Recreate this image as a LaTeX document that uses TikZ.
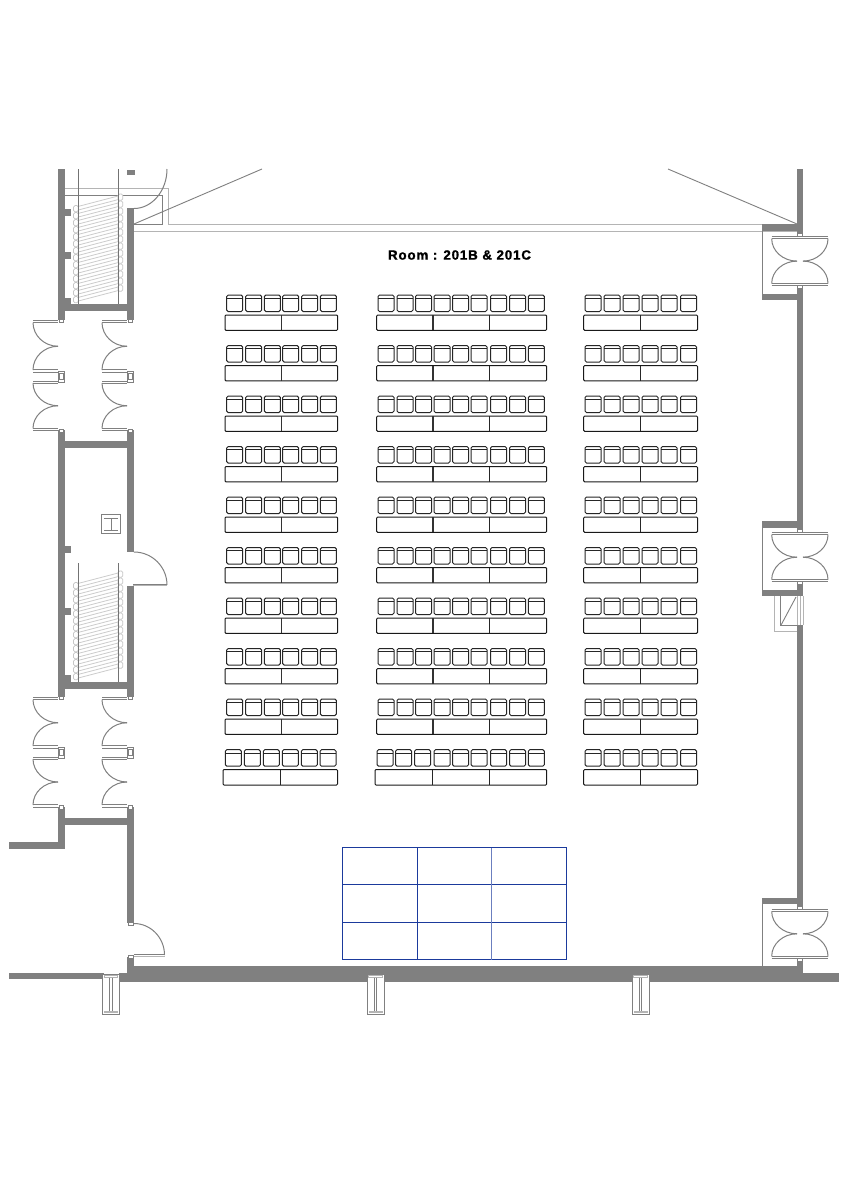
\documentclass[tikz,border=0pt]{standalone}
\usepackage{fontspec}
\setmainfont{Liberation Sans}
\newfontfamily\titlefont[LetterSpace=6,BoldFont={Liberation Sans Bold},BoldFeatures={FakeBold=1.3}]{Liberation Sans}
\definecolor{wallgrey}{HTML}{808080}
\definecolor{lightgrey}{HTML}{B4B4B4}
\definecolor{gridblue}{HTML}{1B3A9C}
\tikzset{
  wallfill/.style={fill=wallgrey,draw=none},
  thinline/.style={draw=wallgrey,line width=0.9pt},
  lightline/.style={draw=lightgrey,line width=1pt},
  swing/.style={draw=wallgrey,line width=1pt},
  jamb/.style={draw=wallgrey,fill=white,line width=0.8pt},
  seatbox/.style={draw=black!85,line width=1pt,fill=white,rounded corners=1.5pt},
  deskbox/.style={draw=black!90,line width=1pt,fill=white,rounded corners=1pt},
  deskdiv/.style={draw=black!80,line width=1.6pt},
  deskdivthin/.style={draw=black!85,line width=0.9pt},
  treadline/.style={draw=black!20,line width=0.8pt},
  treadend/.style={draw=black!22,line width=0.7pt,fill=white,rounded corners=1.5pt},
  stairrail/.style={draw=black!55,line width=0.8pt},
  bluegrid/.style={draw=gridblue,line width=1.2pt},
  titletext/.style={font=\titlefont\bfseries\fontsize{13.4}{15}\selectfont,text=black,inner sep=0pt}
}
\newcommand{\wallr}[4]{\fill[wallfill] (#1,#2) rectangle (#3,#4);}
% quarter arc: vertical tangent at A, horizontal at B
\newcommand{\arcVH}[4]{({#1},{#2}) .. controls ({#1},{#2+0.55*(#4-(#2))}) and ({#3+0.55*(#1-(#3))},{#4}) .. ({#3},{#4})}
% quarter arc: horizontal tangent at A, vertical at B
\newcommand{\arcHV}[4]{({#1},{#2}) .. controls ({#1+0.55*(#3-(#1))},{#2}) and ({#3},{#4+0.55*(#2-(#4))}) .. ({#3},{#4})}
% pair of west-opening double doors: wall face x, top y, bottom y
\newcommand{\westpair}[3]{%
  \draw[swing] (#1-25,#2) -- (#1,#2) (#1-25,#2+2.2) -- (#1,#2+2.2);
  \draw[swing] (#1-25,#3) -- (#1,#3) (#1-25,#3-2.2) -- (#1,#3-2.2);
  \draw[swing] \arcVH{#1-25}{#2+2}{#1}{(#2+#3)/2};
  \draw[swing] \arcVH{#1-25}{#3-2}{#1}{(#2+#3)/2};
}
% pair of doors swinging both sides of the east wall
\newcommand{\eastpair}[2]{%
  \draw[swing] (771.7,#1) -- (828,#1) (771.7,#1+2.2) -- (828,#1+2.2);
  \draw[swing] (771.7,#2) -- (828,#2) (771.7,#2-2.2) -- (828,#2-2.2);
  \draw[swing] \arcVH{771.7}{#1+2}{797}{(#1+#2)/2};
  \draw[swing] \arcVH{828}{#1+2}{803}{(#1+#2)/2};
  \draw[swing] \arcVH{771.7}{#2-2}{797}{(#1+#2)/2};
  \draw[swing] \arcVH{828}{#2-2}{803}{(#1+#2)/2};
  \draw[jamb] (797.5,#1-3) rectangle (802.5,#1);
  \draw[jamb] (797.5,#2) rectangle (802.5,#2+3);
}
\newcommand{\midjamb}[2]{%
  \draw[jamb] (#1,#2) rectangle (#1+6.5,#2+11);
  \draw[jamb] (#1+1.5,#2+2.5) rectangle (#1+5,#2+8.5);
}
\newcommand{\stairflight}[1]{%
  \foreach \i in {0,...,13} {
    \pgfmathsetmacro{\yy}{#1+7*\i}
    \draw[treadline] (76,\yy) -- (120,\yy-11.5) (76,\yy+3.6) -- (120,\yy-7.9);
    \draw[treadend] (73.5,\yy-1.5) rectangle (78.3,\yy+4.8);
    \draw[treadend] (118,\yy-13) rectangle (122.8,\yy-6.7);
  }
}
\newcommand{\wcolumn}[1]{%
  \draw[jamb] (#1,974) rectangle (#1+16.6,1014);
  \draw[lightline] (#1+1.5,975.5) rectangle (#1+15.1,977.5);
  \fill[lightgrey] (#1+1.5,1010.7) rectangle (#1+15.1,1013);
  \draw[thinline] (#1+7.2,977.5) -- (#1+7.2,1010.7) (#1+9.4,977.5) -- (#1+9.4,1010.7);
}
\newcommand{\chairat}[2]{%
  \draw[seatbox] (#1,#2) rectangle (#1+16,#2+16.5);
  \draw[draw=black!85,line width=0.8pt] (#1+0.3,#2+3.3) -- (#1+15.7,#2+3.3);
}
\begin{document}
\begin{tikzpicture}[x=1pt,y=-1pt]
\useasboundingbox (0,0) rectangle (848,1200);
\fill[white] (0,0) rectangle (848,1200);

% thin ceiling / soffit lines
\draw[lightline] (65,188) -- (168,188);
\draw[thinline] (65,195) -- (162,195) -- (162,224) -- (134,224);
\draw[lightline] (168,188) -- (168,224) -- (795,224);
\draw[lightline] (134,231) -- (797,231);
\draw[thinline] (134,224) -- (262,169);
\draw[thinline] (668,169) -- (797,224);

% stair flights
\stairflight{207}
\stairflight{584}
\draw[stairrail] (78,169) -- (78,304) (118,169) -- (118,304);
\draw[stairrail] (78,563) -- (78,682) (118,563) -- (118,682);

% west corridor walls
\wallr{58}{169}{65}{320}
\wallr{127}{208}{134}{320}
\wallr{65}{304}{127}{311}
\wallr{65}{209}{71}{216}
\wallr{65}{252}{71}{259}
\wallr{65}{298}{71}{304}
\wallr{127}{170}{135}{175}
\wallr{58}{430}{65}{697}
\wallr{127}{430}{134}{552}
\wallr{127}{586}{134}{697}
\wallr{65}{441}{127}{448}
\wallr{65}{682}{127}{689}
\wallr{65}{546}{71}{553}
\wallr{65}{608}{71}{615}
\wallr{65}{675}{71}{682}
\wallr{58}{807}{65}{849}
\wallr{127}{807}{134}{923}
\wallr{65}{818}{127}{825}
\wallr{9}{842}{65}{849}
\wallr{127}{957}{134}{973}
\wallr{9}{973}{104}{979}
\wallr{119}{973}{134}{982}
\wallr{134}{966}{803}{982}
\wallr{803}{973}{839}{982}

% east wall
\wallr{797}{169}{803}{237}
\wallr{762}{224}{797}{231}
\wallr{797}{286}{803}{533}
\wallr{762}{293.5}{797}{300}
\wallr{762}{521}{797}{528}
\wallr{797}{582}{803}{596}
\wallr{762}{589.5}{797}{596}
\wallr{797}{625}{803}{910}
\wallr{762}{897.5}{797}{904}
\wallr{797}{958}{803}{970}
\draw[thinline] (762.7,231) -- (762.7,293.5);
\draw[thinline] (762.7,528) -- (762.7,589.5);
\draw[thinline] (762.7,904) -- (762.7,966);

% east window
\draw[lightline] (797,596) -- (797,625) (800,596) -- (800,625) (803,596) -- (803,625);
\draw[lightline] (774.3,596) -- (774.3,631.7) -- (797,631.7);
\draw[thinline] (780.7,596) -- (780.7,625.7) -- (797,625.7);
\draw[thinline] (780.7,625.7) -- (796,597);

% east doors
\eastpair{236.7}{285.5}
\eastpair{532.7}{581.7}
\eastpair{909.3}{958.3}

% west double doors
\westpair{58}{320.5}{372}
\westpair{58}{381}{430.5}
\westpair{127}{320.5}{372}
\westpair{127}{381}{430.5}
\westpair{58}{697.5}{748}
\westpair{58}{757}{807}
\westpair{127}{697.5}{748}
\westpair{127}{757}{807}
\foreach \jx in {58,127} {
  \midjamb{\jx}{371}
  \midjamb{\jx}{747}
  \draw[jamb] (\jx+1,319) rectangle (\jx+5.5,322.5);
  \draw[jamb] (\jx+1,429) rectangle (\jx+5.5,432.5);
  \draw[jamb] (\jx+1,696) rectangle (\jx+5.5,699.5);
  \draw[jamb] (\jx+1,805.5) rectangle (\jx+5.5,809);
}

% single doors
\draw[swing] \arcHV{134}{208.5}{167}{169};
\draw[swing] \arcHV{134}{552}{167}{585};
\draw[lightline] (133,585.5) -- (167,585.5);
\draw[swing] (133,584.5) -- (167,584.5);
\draw[swing] \arcHV{134}{923.5}{164.5}{955};
\draw[swing] (134,954.5) -- (164.5,954.5);
\draw[lightline] (134,956.3) -- (164.5,956.3);
\draw[jamb] (128.5,922) rectangle (133,925.5);
\draw[jamb] (128.5,955) rectangle (133,958.5);

% lift symbol
\draw[thinline] (101.7,514) rectangle (120.7,533);
\draw[draw=wallgrey,line width=1pt] (104,518) -- (118,518) (104,530) -- (118,530) (111,518) -- (111,530);

% structural columns
\wcolumn{102.7}
\wcolumn{367.4}
\wcolumn{632.4}

% seating
\foreach \r in {0,...,8} {
  \pgfmathsetmacro{\cy}{295+50.5*\r}
  \pgfmathsetmacro{\ty}{315+50.5*\r}
  \foreach \cx in {226.7,245.7,264.3,282.7,301.7,320.3} {\chairat{\cx}{\cy}}
  \draw[deskbox] (225,\ty) rectangle (337.7,\ty+15.3);
  \draw[deskdiv] (281.5,\ty) -- (281.5,\ty+15.3);
  \foreach \cx in {378,397,415.5,434,452.5,471,490.5,509.5,528.3} {\chairat{\cx}{\cy}}
  \draw[deskbox] (376.7,\ty) rectangle (546.7,\ty+15.3);
  \draw[deskdiv] (433,\ty) -- (433,\ty+15.3);
  \draw[deskdivthin] (489.5,\ty) -- (489.5,\ty+15.3);
  \foreach \cx in {585,604,623,642,661,680.5} {\chairat{\cx}{\cy}}
  \draw[deskbox] (583.7,\ty) rectangle (697.5,\ty+15.3);
  \draw[deskdivthin] (640.5,\ty) -- (640.5,\ty+15.3);
}
\foreach \cx in {225.3,244.3,263.3,282.3,301.3,320} {\chairat{\cx}{749.7}}
\draw[deskbox] (223,769.5) rectangle (337.5,785);
\draw[deskdivthin] (280.7,769.5) -- (280.7,785);
\foreach \cx in {377,395.5,414.5,434,452.5,471,490.5,509.5,528.3} {\chairat{\cx}{749.7}}
\draw[deskbox] (375,769.5) rectangle (546.7,785);
\draw[deskdivthin] (432.3,769.5) -- (432.3,785) (489.5,769.5) -- (489.5,785);
\foreach \cx in {585,604,623,642,661,680.5} {\chairat{\cx}{749.7}}
\draw[deskbox] (583.7,769.5) rectangle (697.5,785);
\draw[deskdivthin] (640.5,769.5) -- (640.5,785);

% blue stage grid
\draw[bluegrid] (342.5,847.5) rectangle (566.5,959.5);
\draw[bluegrid] (342.5,884.5) -- (566.5,884.5) (342.5,922.5) -- (566.5,922.5) (417.5,847.5) -- (417.5,959.5);
\draw[draw=gridblue!65,line width=1.2pt] (491.5,847.5) -- (491.5,959.5);

% title
\node[titletext] (roomtitle) at (459.5,255) {Room : 201B \& 201C};
\end{tikzpicture}
\end{document}
